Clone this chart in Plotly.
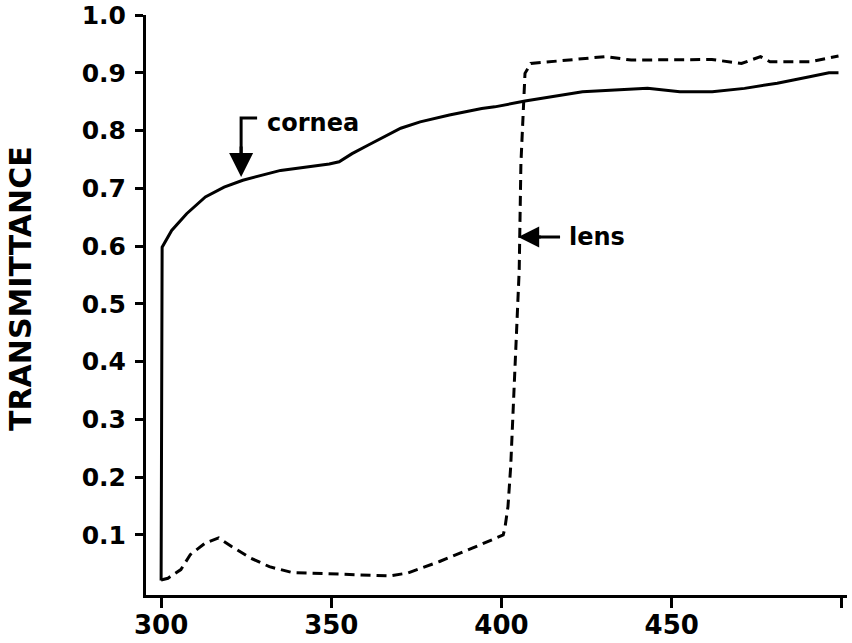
import plotly.graph_objects as go

# Wavelength (nm) and transmittance
cornea_x = [300.0, 300.3, 303.1, 307.5, 313.0, 318.5, 324.0, 329.6, 335.1, 342.8,
            349.4, 352.3, 356.1, 360.9, 365.6, 370.4, 376.1, 384.7, 394.2, 398.0,
            406.9, 423.8, 433.3, 442.9, 452.4, 461.9, 471.4, 481.0, 490.5, 496.2, 499.0]
cornea_y = [0.021, 0.598, 0.627, 0.656, 0.685, 0.702, 0.714, 0.723, 0.731, 0.737,
            0.742, 0.746, 0.760, 0.775, 0.789, 0.804, 0.815, 0.827, 0.838, 0.841,
            0.851, 0.867, 0.870, 0.873, 0.867, 0.867, 0.873, 0.882, 0.893, 0.900, 0.900]

lens_x = [300.0, 302.0, 305.8, 308.6, 313.0, 316.9, 320.7, 326.3, 331.8, 338.4,
          348.3, 367.0, 372.4, 381.8, 391.4, 400.5, 401.0, 401.9, 402.7, 405.2,
          405.7, 406.5, 406.9, 408.6, 414.3, 423.8, 430.5, 438.1, 452.4, 461.8,
          470.5, 473.3, 476.1, 478.9, 490.5, 499.0]
lens_y = [0.022, 0.025, 0.040, 0.066, 0.086, 0.095, 0.080, 0.060, 0.045, 0.035,
          0.033, 0.029, 0.034, 0.054, 0.077, 0.100, 0.112, 0.149, 0.218, 0.558,
          0.743, 0.858, 0.899, 0.916, 0.919, 0.925, 0.928, 0.922, 0.922, 0.923,
          0.916, 0.922, 0.928, 0.919, 0.919, 0.929]

x_ticks = [300, 350, 400, 450, 500]
x_labels = ["300", "350", "400", "450", ""]
y_ticks = [0.1, 0.2, 0.3, 0.4, 0.5, 0.6, 0.7, 0.8, 0.9, 1.0]
y_labels = ["0.1", "0.2", "0.3", "0.4", "0.5", "0.6", "0.7", "0.8", "0.9", "1.0"]

FONT = "DejaVu Sans"

fig = go.Figure()
fig.add_trace(go.Scatter(x=cornea_x, y=cornea_y, mode="lines",
                         line=dict(color="black", width=3), showlegend=False))
fig.add_trace(go.Scatter(x=lens_x, y=lens_y, mode="lines",
                         line=dict(color="black", width=3, dash="10px,6px"),
                         showlegend=False))

# cornea label with bent arrow
fig.add_shape(type="path", path="M 328.2,0.8217 L 323.5,0.8217 L 323.5,0.745",
              line=dict(color="black", width=3))
fig.add_annotation(x=323.5, y=0.7196, ax=323.5, ay=0.775, axref="x", ayref="y",
                   xref="x", yref="y", text="", showarrow=True, arrowhead=2,
                   arrowsize=1.6, arrowwidth=3, arrowcolor="black", standoff=0)
fig.add_annotation(x=330.6, y=0.813, xref="x", yref="y", text="cornea",
                   showarrow=False, xanchor="left", yanchor="middle",
                   font=dict(family=FONT, size=24, color="black", weight="bold"))

# lens label with arrow
fig.add_shape(type="line", x0=417.2, y0=0.6157, x1=408.0, y1=0.6157,
              line=dict(color="black", width=3))
fig.add_annotation(x=404.9, y=0.6157, ax=412.0, ay=0.6157, axref="x", ayref="y",
                   xref="x", yref="y", text="", showarrow=True, arrowhead=2,
                   arrowsize=1.4, arrowwidth=3, arrowcolor="black", standoff=0)
fig.add_annotation(x=419.2, y=0.6157, xref="x", yref="y", text="lens",
                   showarrow=False, xanchor="left", yanchor="middle",
                   font=dict(family=FONT, size=24, color="black", weight="bold"))

# y-axis title
fig.add_annotation(x=-0.178, y=0.528, xref="paper", yref="paper",
                   text="TRANSMITTANCE", textangle=-90, showarrow=False,
                   xanchor="center", yanchor="middle",
                   font=dict(family=FONT, size=30, color="black", weight="bold"))

fig.update_xaxes(range=[295.56, 501.5], tickmode="array", tickvals=x_ticks,
                 ticktext=x_labels, showline=True, linecolor="black", linewidth=3,
                 ticks="outside", ticklen=10, tickwidth=3, tickcolor="black",
                 showgrid=False, zeroline=False, automargin=False,
                 ticklabelstandoff=-5,
                 tickfont=dict(family=FONT, size=26, color="black", weight="bold"))
fig.update_yaxes(range=[-0.004, 1.0], tickmode="array", tickvals=y_ticks,
                 ticktext=y_labels, showline=True, linecolor="black", linewidth=3,
                 ticks="outside", ticklen=8, tickwidth=3, tickcolor="black",
                 showgrid=False, zeroline=False, ticklabelstandoff=4,
                 automargin=False,
                 tickfont=dict(family=FONT, size=25, color="black", weight="bold"))

fig.update_layout(width=852, height=643, margin=dict(l=146, r=5, t=15, b=48),
                  paper_bgcolor="white", plot_bgcolor="white")

fig.write_html("out.html")
